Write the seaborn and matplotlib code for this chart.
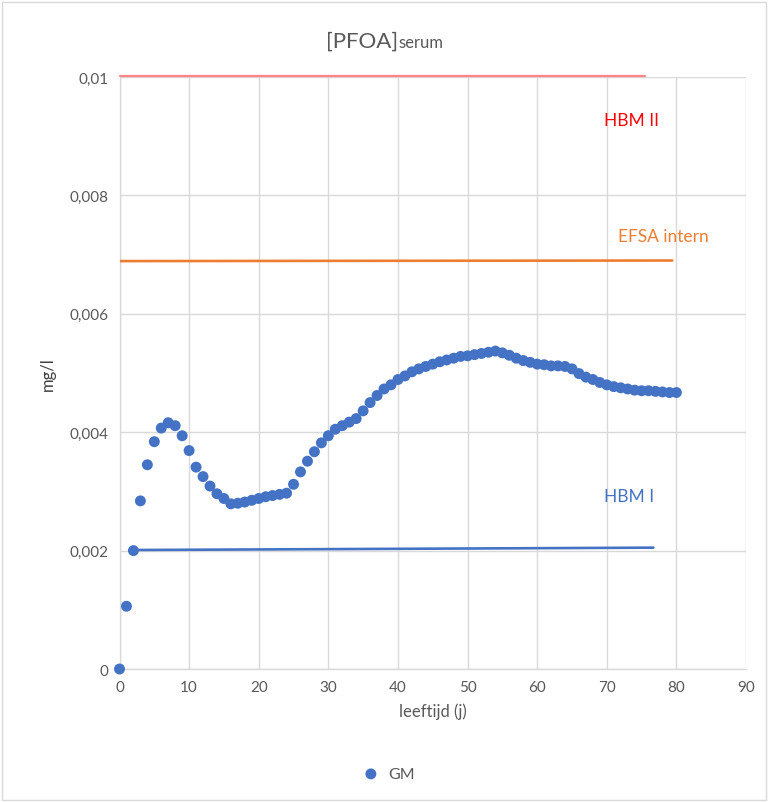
import matplotlib
matplotlib.use("Agg")
import matplotlib.pyplot as plt
import seaborn as sns
import pandas as pd
from matplotlib.patches import Rectangle
from matplotlib.ticker import FuncFormatter

# GM serum concentration per age (mg/l)
age = list(range(0, 81))
gm = [0.0, 1.06, 2.00, 2.84, 3.45, 3.84, 4.07, 4.16, 4.11, 3.94,
      3.69, 3.41, 3.25, 3.09, 2.96, 2.88, 2.79, 2.80, 2.82, 2.85,
      2.88, 2.91, 2.93, 2.95, 2.97, 3.12, 3.33, 3.51, 3.67, 3.82,
      3.94, 4.05, 4.11, 4.17, 4.23, 4.36, 4.50, 4.62, 4.73, 4.80,
      4.89, 4.95, 5.02, 5.07, 5.11, 5.15, 5.19, 5.22, 5.25, 5.28,
      5.29, 5.31, 5.33, 5.35, 5.37, 5.34, 5.30, 5.25, 5.21, 5.18,
      5.15, 5.14, 5.12, 5.12, 5.11, 5.07, 4.99, 4.93, 4.89, 4.84,
      4.80, 4.77, 4.75, 4.73, 4.71, 4.70, 4.70, 4.69, 4.68, 4.67,
      4.67]
gm = [v / 1000 for v in gm]

# reference levels
hbm2_x = [0, 75.5]
hbm2_y = [0.01002, 0.01002]
efsa_x = [0, 79.4]
efsa_y = [0.00689, 0.00690]
hbm1_x = [1.5, 76.7]
hbm1_y = [0.00201, 0.00205]

df = pd.DataFrame({"age": age, "GM": gm})

sns.set_style("white")
plt.rcParams["font.family"] = ["Lato", "DejaVu Sans"]

grey = "#595959"
fig = plt.figure(figsize=(7.69, 8.03), dpi=100)
ax = fig.add_axes([0.1554, 0.1656, 0.9701 - 0.1554, 0.9029 - 0.1656])

sns.lineplot(x=hbm2_x, y=hbm2_y, ax=ax, color="#FF8585", linewidth=1.6, zorder=5,
             clip_on=False)
sns.lineplot(x=efsa_x, y=efsa_y, ax=ax, color="#ED7D31", linewidth=1.9, zorder=3)
sns.lineplot(x=hbm1_x, y=hbm1_y, ax=ax, color="#4472C4", linewidth=1.9, zorder=3)
sns.scatterplot(data=df, x="age", y="GM", ax=ax, color="#4472C4", s=62,
                edgecolor="none", zorder=4, label="GM", clip_on=False)

ax.set_xlim(0, 90)
ax.set_ylim(0, 0.01)
ax.set_xticks(range(0, 91, 10))
ax.set_yticks([0, 0.002, 0.004, 0.006, 0.008, 0.01])
ax.yaxis.set_major_formatter(FuncFormatter(
    lambda v, p: "0" if v == 0 else ("%g" % round(v, 4)).replace(".", ",")))
ax.grid(True, color="#d9d9d9", linewidth=1)
ax.set_axisbelow(True)
for s in ["top", "right"]:
    ax.spines[s].set_visible(False)
for s in ["left", "bottom"]:
    ax.spines[s].set_color("#d9d9d9")
    ax.spines[s].set_linewidth(1)
ax.tick_params(length=0, labelsize=11, colors=grey, pad=8)

ax.set_xlabel("leeftijd (j)", fontsize=12, color=grey, labelpad=6)
ax.set_ylabel("mg/l", fontsize=12, color="#404040", labelpad=10)

ax.text(73.6, 0.00927, "HBM II", color="#FF0000", fontsize=12.5, ha="center", va="center")
ax.text(78.2, 0.00731, "EFSA intern", color="#ED7D31", fontsize=12.5, ha="center", va="center")
ax.text(73.2, 0.00292, "HBM I", color="#4472C4", fontsize=12.5, ha="center", va="center")

# title with smaller "serum" part
t1 = fig.text(0.0, 1 - 48 / 803, "[PFOA]", fontsize=16, color=grey, ha="left", va="baseline")
t2 = fig.text(0.0, 1 - 48 / 803, "serum", fontsize=12, color=grey, ha="left", va="baseline")
fig.canvas.draw()
r = fig.canvas.get_renderer()
w1 = t1.get_window_extent(r).width / fig.bbox.width
w2 = t2.get_window_extent(r).width / fig.bbox.width
x0 = 385 / 769 - (w1 + w2) / 2
t1.set_x(x0)
t2.set_x(x0 + w1)

leg = ax.legend(loc="center", bbox_to_anchor=(385 / 769, 1 - 775 / 803),
                bbox_transform=fig.transFigure, frameon=False, fontsize=11.5,
                handletextpad=0.1, markerscale=1.0)
for txt in leg.get_texts():
    txt.set_color(grey)

fig.patches.append(Rectangle((0.002, 0.002), 0.994, 0.994, transform=fig.transFigure,
                             fill=False, edgecolor="#d9d9d9", linewidth=1))

fig.savefig("out.png", dpi=100, facecolor="white")
